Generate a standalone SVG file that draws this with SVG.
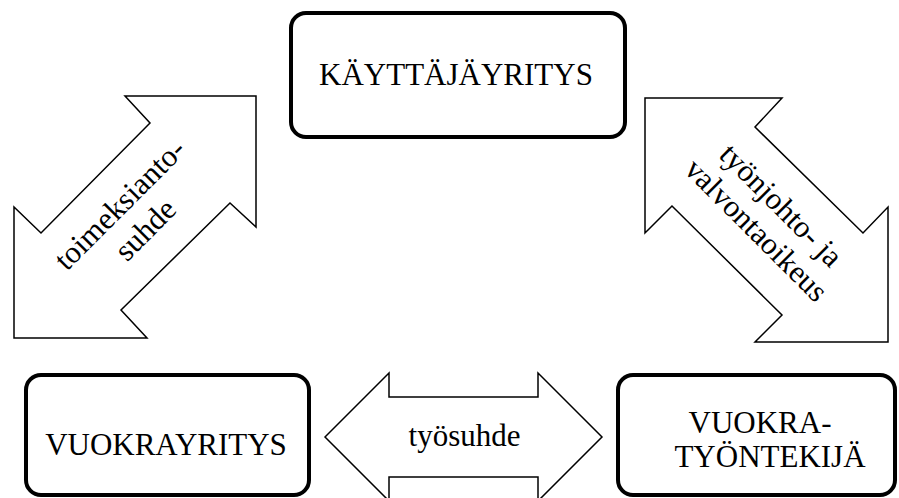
<svg xmlns="http://www.w3.org/2000/svg" width="899" height="498" viewBox="0 0 899 498">
<style>
.box{fill:#fff;stroke:#000;stroke-width:4}
.arr{fill:#fff;stroke:#000;stroke-width:1.5;stroke-linejoin:miter}
.t{font-family:'Liberation Serif',serif;font-size:31px;fill:#000;text-anchor:middle}
</style>
<rect width="899" height="498" fill="#fff"/>
<g id="connectors">
<g id="arrow-left">
<polygon class="arr" points="125,96 256,96 256,227 230,203 121,310 147,338 14,338 14,207 41,233 150,123"/>
<g transform="translate(127,211.5) rotate(-45)">
<text class="t" x="0" y="0">toimeksianto-</text>
<text class="t" x="0" y="36">suhde</text>
</g>
</g>
<g id="arrow-right">
<polygon class="arr" points="645,98 782,98 755,127 863,233 888,207 888,342 755,342 782,315 672,206 645,233"/>
<g transform="translate(774,212.5) rotate(45)">
<text class="t" x="0" y="0">työnjohto- ja</text>
<text class="t" x="0" y="35">valvontaoikeus</text>
</g>
</g>
<g id="arrow-bottom">
<polygon class="arr" points="325,437 389,373 389,397 538,397 538,373 602,437 538,501 538,477 389,477 389,501"/>
<text class="t" x="464.5" y="446">työsuhde</text>
</g>
</g>
<g id="node-kayttajayritys">
<rect class="box" x="291" y="13" width="334" height="124" rx="15"/>
<text class="t" x="456" y="85">KÄYTTÄJÄYRITYS</text>
</g>
<g id="node-vuokrayritys">
<rect class="box" x="26" y="375" width="283" height="120" rx="15"/>
<text class="t" x="166" y="455">VUOKRAYRITYS</text>
</g>
<g id="node-vuokratyontekija">
<rect class="box" x="618" y="375" width="277" height="120" rx="15"/>
<text class="t" x="760" y="433">VUOKRA-</text>
<text class="t" x="770" y="467">TYÖNTEKIJÄ</text>
</g>
</svg>
